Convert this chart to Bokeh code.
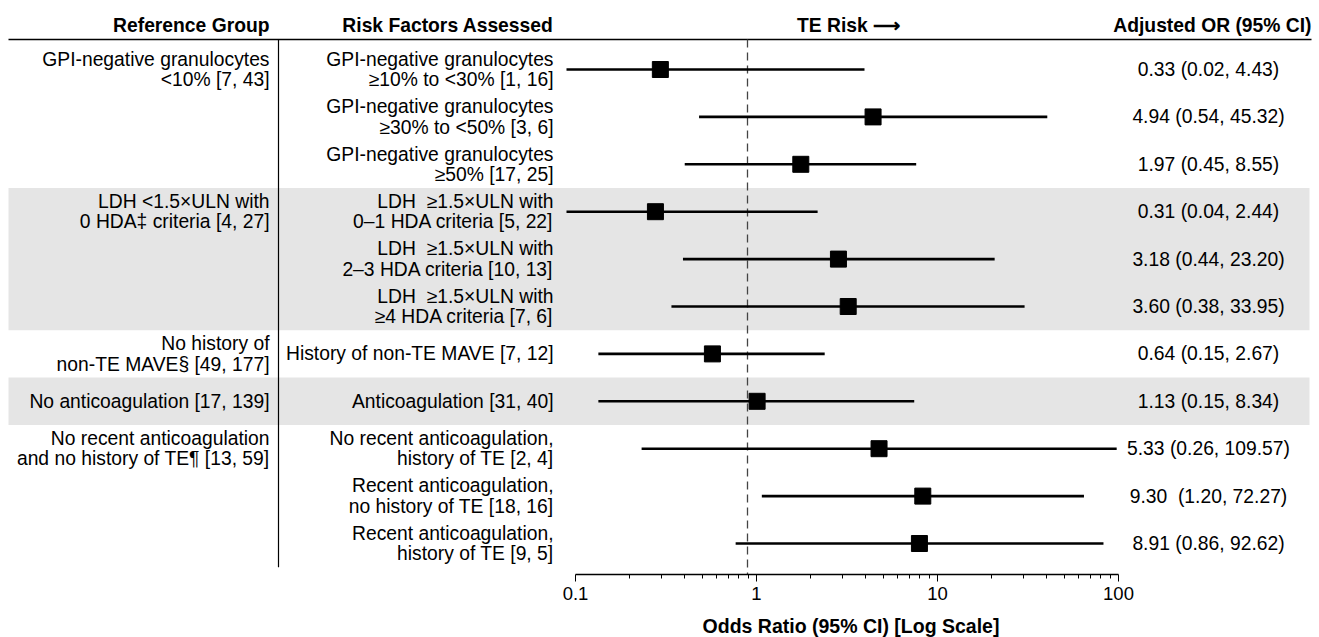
import numpy as np
from bokeh.plotting import figure
from bokeh.layouts import column
from bokeh.models import Range1d, LogScale, LogAxis, FixedTicker
from bokeh.core.properties import value
from bokeh.embed import file_html
from bokeh.resources import INLINE

# ---------------- data ----------------
ref_groups = [
    "GPI-negative granulocytes\n<10% [7, 43]",
    "LDH <1.5×ULN with\n0 HDA‡ criteria [4, 27]",
    "No history of\nnon-TE MAVE§ [49, 177]",
    "No anticoagulation [17, 139]",
    "No recent anticoagulation\nand no history of TE¶ [13, 59]",
]
group_sizes = [3, 3, 1, 1, 3]
group_shaded = [False, True, False, True, False]

risk_factors = [
    "GPI-negative granulocytes\n≥10% to <30% [1, 16]",
    "GPI-negative granulocytes\n≥30% to <50% [3, 6]",
    "GPI-negative granulocytes\n≥50% [17, 25]",
    "LDH\u00a0 ≥1.5×ULN with\n0–1 HDA criteria [5, 22]",
    "LDH\u00a0 ≥1.5×ULN with\n2–3 HDA criteria [10, 13]",
    "LDH\u00a0 ≥1.5×ULN with\n≥4 HDA criteria [7, 6]",
    "History of non-TE MAVE [7, 12]",
    "Anticoagulation [31, 40]",
    "No recent anticoagulation,\nhistory of TE [2, 4]",
    "Recent anticoagulation,\nno history of TE [18, 16]",
    "Recent anticoagulation,\nhistory of TE [9, 5]",
]
odds_ratio = [0.33, 4.94, 1.97, 0.31, 3.18, 3.60, 0.64, 1.13, 5.33, 9.30, 8.91]
ci_lower = [0.02, 0.54, 0.45, 0.04, 0.44, 0.38, 0.15, 0.15, 0.26, 1.20, 0.86]
ci_upper = [4.43, 45.32, 8.55, 2.44, 23.20, 33.95, 2.67, 8.34, 109.57, 72.27, 92.62]
or_labels = [
    "0.33 (0.02, 4.43)",
    "4.94 (0.54, 45.32)",
    "1.97 (0.45, 8.55)",
    "0.31 (0.04, 2.44)",
    "3.18 (0.44, 23.20)",
    "3.60 (0.38, 33.95)",
    "0.64 (0.15, 2.67)",
    "1.13 (0.15, 8.34)",
    "5.33 (0.26, 109.57)",
    "9.30\u00a0 (1.20, 72.27)",
    "8.91 (0.86, 92.62)",
]
headers = ["Reference Group", "Risk Factors Assessed", "TE Risk ⟶", "Adjusted OR (95% CI)"]
axis_ticks = [0.1, 1, 10, 100]
axis_tick_labels = ["0.1", "1", "10", "100"]
axis_minor_ticks = [m * d for d in (0.1, 1, 10) for m in range(2, 10)]
axis_title = "Odds Ratio (95% CI) [Log Scale]"
display_min = 0.1

# ---------------- layout constants (page pixels) ----------------
W = 1316
FRAME_BOTTOM = 574
AXIS_PANEL = 38
H = FRAME_BOTTOM + AXIS_PANEL
H2 = 637 - H
TITLE_Y = 625
ROW0, ROW_H = 69.0, 47.4
HEADER_Y, HEADER_LINE_Y = 25, 39
PX_DEC = 181.0
REF_PX, AXIS_PX = 747.0, 756.0
COL1_RIGHT, DIVIDER_X, COL2_RIGHT, COL4_CENTER = 269, 278, 553, 1208
FONT = "Liberation Sans"
FS = "19.3px"

n = len(risk_factors)
rows = np.arange(n)
row_y = ROW0 + ROW_H * rows

def log_range(px_at_one):
    l0 = -px_at_one / PX_DEC
    l1 = l0 + W / PX_DEC
    return Range1d(10 ** l0, 10 ** l1)

p = figure(width=W, height=H, output_backend="svg", toolbar_location=None,
           x_axis_location=None, y_axis_location=None,
           x_range=Range1d(0, W), y_range=Range1d(FRAME_BOTTOM, 0),
           min_border_left=0, min_border_right=0, min_border_top=0,
           min_border_bottom=AXIS_PANEL)
p.outline_line_color = None
p.grid.grid_line_color = None
p.background_fill_color = "white"
p.border_fill_color = "white"

p.extra_x_ranges = {"or": log_range(REF_PX), "ax": log_range(AXIS_PX)}
p.extra_x_scales = {"or": LogScale(), "ax": LogScale()}

# shaded bands
starts = np.cumsum([0] + group_sizes[:-1])
band_top, band_bot = [], []
for s, sz, sh in zip(starts, group_sizes, group_shaded):
    if sh:
        band_top.append(ROW0 + ROW_H * (s - 0.5))
        band_bot.append(ROW0 + ROW_H * (s + sz - 0.5))
p.quad(left=8, right=1309, top=band_top, bottom=band_bot,
       fill_color="#E5E5E5", line_color=None)

# header line and divider
p.segment(x0=[8], x1=[1311], y0=[HEADER_LINE_Y], y1=[HEADER_LINE_Y],
          line_color="black", line_width=1.3)
p.segment(x0=[DIVIDER_X], x1=[DIVIDER_X], y0=[HEADER_LINE_Y], y1=[ROW0 + ROW_H * (n - 0.5)],
          line_color="black", line_width=1.2)

# reference line at OR = 1
p.segment(x0=[1], x1=[1], y0=[HEADER_LINE_Y], y1=[FRAME_BOTTOM + 5], x_range_name="or",
          line_color="#444444", line_width=1.3, line_dash="8 5")

# CIs and points
lo = np.clip(np.array(ci_lower), display_min, None)
p.segment(x0=lo, x1=ci_upper, y0=row_y, y1=row_y, x_range_name="or",
          line_color="black", line_width=2.6)
p.scatter(x=odds_ratio, y=row_y, x_range_name="or", marker="square",
          size=16, fill_color="black", line_color="black")

common = dict(text_font=value(FONT), text_font_size=FS, text_baseline="middle",
              text_color="black", text_line_height=0.98)

# texts
p.text(x=COL1_RIGHT, y=ROW0 + ROW_H * starts, text=ref_groups, text_align="right", **common)
p.text(x=COL2_RIGHT, y=row_y, text=risk_factors, text_align="right", **common)
p.text(x=COL4_CENTER, y=row_y, text=or_labels, text_align="center", **common)

hdr = dict(common, text_font_style="bold")
p.text(x=[COL1_RIGHT, COL2_RIGHT], y=HEADER_Y, text=headers[:2], text_align="right", **hdr)
p.text(x=[848], y=HEADER_Y, text=[headers[2]], text_align="center", **hdr)
p.text(x=[1311], y=HEADER_Y, text=[headers[3]], text_align="right", **hdr)

# axis
ax = LogAxis(x_range_name="ax", bounds=(axis_ticks[0], axis_ticks[-1]),
             ticker=FixedTicker(ticks=axis_ticks, minor_ticks=axis_minor_ticks),
             major_label_overrides=dict(zip(axis_ticks, axis_tick_labels)),
             axis_line_color="black", axis_line_width=1.3,
             major_tick_line_color="black", minor_tick_line_color="black",
             major_tick_out=7, major_tick_in=0, minor_tick_out=4, minor_tick_in=0,
             major_label_standoff=5,
             major_label_text_font=FONT, major_label_text_font_size="18.5px",
             major_label_text_color="black")
p.add_layout(ax, "below")

# axis title strip, sharing the axis' log mapping
p2 = figure(width=W, height=H2, output_backend="svg", toolbar_location=None,
            x_axis_type="log", x_axis_location=None, y_axis_location=None,
            x_range=log_range(AXIS_PX), y_range=Range1d(H2, 0),
            min_border_left=0, min_border_right=0, min_border_top=0, min_border_bottom=0)
p2.outline_line_color = None
p2.grid.grid_line_color = None
p2.text(x=[np.sqrt(axis_ticks[0] * axis_ticks[-1])], y=[TITLE_Y - H], text=[axis_title],
        x_offset=4, text_align="center", text_baseline="middle",
        text_font=value(FONT), text_font_size="19.5px", text_font_style="bold",
        text_color="black")

layout = column(p, p2, spacing=0)
open("out.html", "w").write(file_html(layout, INLINE))
